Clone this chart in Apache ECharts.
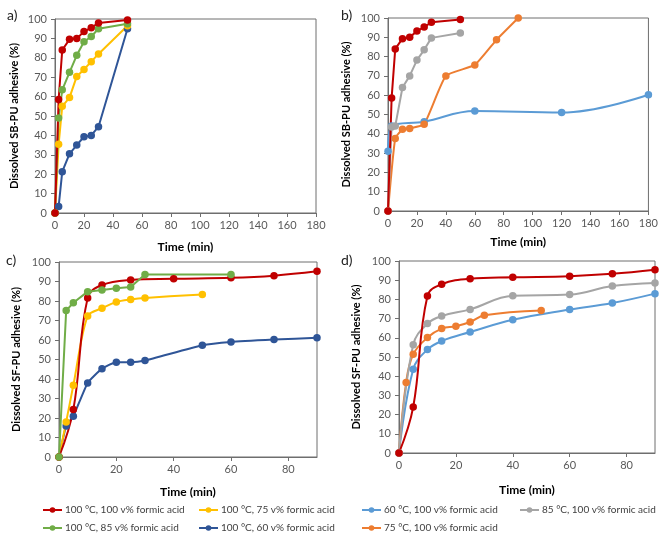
<!DOCTYPE html>
<html>
<head>
<meta charset="utf-8">
<script src="https://cdn.jsdelivr.net/npm/echarts@6/dist/echarts.min.js"></script>
<style>
html,body{margin:0;padding:0;background:#fff;}
#chart{width:661px;height:540px;}
</style>
</head>
<body>
<div id="chart"></div>
<script>
// ---------- Series names ----------
const nRed = '100 °C, 100 v% formic acid';
const nYellow = '100 °C, 75 v% formic acid';
const nGreen = '100 °C, 85 v% formic acid';
const nBlue = '100 °C, 60 v% formic acid';
const nLightBlue = '60 °C, 100 v% formic acid';
const nGrey = '85 °C, 100 v% formic acid';
const nOrange = '75 °C, 100 v% formic acid';

// ---------- Panel a (SB-PU) ----------
const aTime = [0, 2.5, 5, 10, 15, 20, 25, 30, 50];
const aRed = [0, 58.5, 84, 89.5, 90, 93.5, 95.5, 98, 99.5];
const aGreen = [0, 49, 63.5, 72.5, 81.3, 88.3, 91, 95, 97.5];
const aYellow = [0, 35.4, 55, 59.5, 70.4, 74, 78, 82, 96.5];
const aBlue = [0, 3.3, 21.3, 30.5, 35, 39.3, 40, 44.5, 95];

// ---------- Panel b (SB-PU) ----------
const bRedTime = [0, 2.5, 5, 10, 15, 20, 25, 30, 50];
const bRed = [0, 58.5, 84, 89.3, 90, 93.2, 95.3, 97.8, 99.2];
const bGreyTime = [0, 2.5, 5, 10, 15, 20, 25, 30, 50];
const bGrey = [0, 43.5, 44, 64, 70, 78.2, 83.5, 89.7, 92.2];
const bLightBlueTime = [0, 2.5, 25, 60, 120, 180];
const bLightBlue = [31, 44, 46.3, 51.8, 51, 60.2];
const bOrangeTime = [0, 5, 10, 15, 25, 40, 60, 75, 90];
const bOrange = [0, 37.6, 42.3, 42.8, 45, 70, 75.7, 88.7, 100];

// ---------- Panel c (SF-PU) ----------
const cRedTime = [0, 5, 10, 15, 25, 40, 60, 75, 90];
const cRed = [0, 24.3, 81.6, 88.2, 90.8, 91.4, 91.9, 93, 95.2];
const cGreenTime = [0, 2.5, 5, 10, 15, 20, 25, 30, 60];
const cGreen = [0, 75.1, 79.1, 84.8, 85.6, 86.5, 87.2, 93.6, 93.6];
const cYellowTime = [0, 2.5, 5, 10, 15, 20, 25, 30, 50];
const cYellow = [0, 18, 36.8, 72.3, 76.3, 79.5, 80.8, 81.6, 83.3];
const cBlueTime = [0, 2.5, 5, 10, 15, 20, 25, 30, 50, 60, 75, 90];
const cBlue = [0, 15.9, 20.9, 38, 45.3, 48.6, 48.6, 49.5, 57.3, 59, 60.2, 61.2];

// ---------- Panel d (SF-PU) ----------
const dRedTime = [0, 5, 10, 15, 25, 40, 60, 75, 90];
const dRed = [0, 24, 81.8, 87.9, 90.8, 91.5, 92.1, 93.3, 95.4];
const dGreyTime = [0, 5, 10, 15, 25, 40, 60, 75, 90];
const dGrey = [0, 56.4, 67.4, 71.3, 74.8, 81.9, 82.5, 87, 88.6];
const dOrangeTime = [0, 2.5, 5, 10, 15, 20, 25, 30, 50];
const dOrange = [0, 36.7, 51.4, 60.1, 64.8, 66, 68.2, 71.7, 74.2];
const dLightBlueTime = [0, 5, 10, 15, 25, 40, 60, 75, 90];
const dLightBlue = [0, 43.6, 53.9, 58.3, 63, 69.4, 74.7, 78.1, 83];

// ---------- Axis ticks ----------
const yMin = 0, yMax = 100, yStep = 10;
const xMinAB = 0, xMaxAB = 180, xStepAB = 20;
const xMinCD = 0, xMaxCD = 90, xStepCD = 20;

// ---------- Styling ----------
const colors = {};
colors[nRed] = '#C00000';
colors[nYellow] = '#FFC000';
colors[nGreen] = '#70AD47';
colors[nBlue] = '#2F5597';
colors[nLightBlue] = '#5B9BD5';
colors[nGrey] = '#A5A5A5';
colors[nOrange] = '#ED7D31';

const FONT = 'Lato, "Open Sans", sans-serif';
const frameColor = '#6e6e6e';

function pairs(xs, ys) { return xs.map((x, i) => [x, ys[i]]); }

function line(name, xs, ys, gi, smooth) {
  return {
    type: 'line', name: name, xAxisIndex: gi, yAxisIndex: gi,
    data: pairs(xs, ys),
    smooth: smooth || false,
    symbol: 'circle', symbolSize: 7.5,
    lineStyle: { color: colors[name], width: 2 },
    itemStyle: { color: colors[name] },
    emphasis: { disabled: true },
    animation: false
  };
}

const grids = [
  { left: 55, top: 19, width: 261, height: 194 },
  { left: 388, top: 18, width: 263, height: 193 },
  { left: 59, top: 262, width: 258, height: 195 },
  { left: 399, top: 261, width: 256, height: 192 }
].map(g => Object.assign({ show: true, borderColor: frameColor, borderWidth: 1, backgroundColor: 'transparent' }, g));

function xAxis(gi, min, max, step, nameGap, hideMax) {
  return {
    type: 'value', gridIndex: gi, min: min, max: max, interval: step,
    name: 'Time (min)', nameLocation: 'middle', nameGap: nameGap,
    nameTextStyle: { fontFamily: FONT, fontWeight: 'bold', fontSize: 12, color: '#000' },
    axisLine: { show: true, onZero: false, lineStyle: { color: frameColor, width: 1 } },
    axisTick: { show: true, inside: false, length: 4, lineStyle: { color: frameColor } },
    axisLabel: { fontFamily: FONT, fontSize: 11, color: '#595959', margin: 7, showMaxLabel: !hideMax },
    splitLine: { show: false }
  };
}
function yAxis(gi, name, nameGap) {
  return {
    type: 'value', gridIndex: gi, min: yMin, max: yMax, interval: yStep,
    name: name, nameLocation: 'middle', nameGap: nameGap,
    nameTextStyle: { fontFamily: FONT, fontWeight: 'bold', fontSize: 11, color: '#000' },
    axisLine: { show: true, onZero: false, lineStyle: { color: frameColor, width: 1 } },
    axisTick: { show: true, inside: false, length: 4, lineStyle: { color: frameColor } },
    axisLabel: { fontFamily: FONT, fontSize: 11, color: '#595959', margin: 8 },
    splitLine: { show: false }
  };
}

function legendAt(name, left, top) {
  return {
    data: [name], left: left, top: top, orient: 'horizontal',
    itemWidth: 19, itemHeight: 7, itemGap: 4, padding: 0,
    selectedMode: false,
    textStyle: { fontFamily: FONT, fontSize: 10, color: '#404040', padding: [0, 0, 0, -2] }
  };
}

const row1 = 505, row2 = 523;

const option = {
  backgroundColor: '#fff',
  animation: false,
  title: [
    { text: 'a)', left: 2, top: 3, textStyle: { fontFamily: FONT, fontSize: 14, fontWeight: 'normal', color: '#222' } },
    { text: 'b)', left: 336, top: 3, textStyle: { fontFamily: FONT, fontSize: 14, fontWeight: 'normal', color: '#222' } },
    { text: 'c)', left: 1, top: 248, textStyle: { fontFamily: FONT, fontSize: 14, fontWeight: 'normal', color: '#222' } },
    { text: 'd)', left: 336, top: 248, textStyle: { fontFamily: FONT, fontSize: 14, fontWeight: 'normal', color: '#222' } }
  ],
  grid: grids,
  xAxis: [
    xAxis(0, xMinAB, xMaxAB, xStepAB, 28, false),
    xAxis(1, xMinAB, xMaxAB, xStepAB, 25, false),
    xAxis(2, xMinCD, xMaxCD, xStepCD, 29, true),
    xAxis(3, xMinCD, xMaxCD, xStepCD, 31, true)
  ],
  yAxis: [
    yAxis(0, 'Dissolved SB-PU adhesive (%)', 35),
    yAxis(1, 'Dissolved SB-PU adhesive (%)', 36),
    yAxis(2, 'Dissolved SF-PU adhesive (%)', 37),
    yAxis(3, 'Dissolved SF-PU adhesive (%)', 37)
  ],
  legend: [
    legendAt(nRed, 42, row1),
    legendAt(nYellow, 198, row1),
    legendAt(nGreen, 42, row2),
    legendAt(nBlue, 198, row2),
    legendAt(nLightBlue, 361, row1),
    legendAt(nGrey, 519, row1),
    legendAt(nOrange, 361, row2)
  ],
  series: [
    line(nBlue, aTime, aBlue, 0),
    line(nYellow, aTime, aYellow, 0),
    line(nGreen, aTime, aGreen, 0),
    line(nRed, aTime, aRed, 0),

    line(nLightBlue, bLightBlueTime, bLightBlue, 1, 0.4),
    line(nOrange, bOrangeTime, bOrange, 1, 0.15),
    line(nGrey, bGreyTime, bGrey, 1),
    line(nRed, bRedTime, bRed, 1),

    line(nBlue, cBlueTime, cBlue, 2, 0.15),
    line(nYellow, cYellowTime, cYellow, 2, 0.3),
    line(nRed, cRedTime, cRed, 2, 0.4),
    line(nGreen, cGreenTime, cGreen, 2),

    line(nLightBlue, dLightBlueTime, dLightBlue, 3, 0.4),
    line(nOrange, dOrangeTime, dOrange, 3, 0.4),
    line(nGrey, dGreyTime, dGrey, 3, 0.4),
    line(nRed, dRedTime, dRed, 3, 0.4)
  ]
};

const chart = echarts.init(document.getElementById('chart'), null, { renderer: 'canvas' });
chart.setOption(option);
</script>
</body>
</html>
